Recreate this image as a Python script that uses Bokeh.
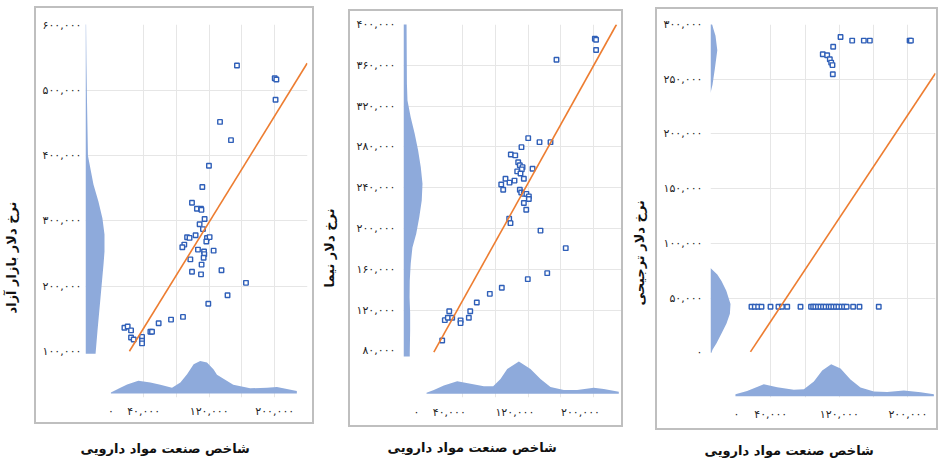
from bokeh.plotting import figure
from bokeh.layouts import row
from bokeh.models import Range1d, FixedTicker, Title, InlineStyleSheet
from bokeh.embed import file_html
from bokeh.resources import INLINE

# ---------------- data ----------------
x_title = "شاخص صنعت مواد دارویی"
x_ticks = [0, 40000, 120000, 200000]
x_tick_labels = ["۰", "۴۰,۰۰۰", "۱۲۰,۰۰۰", "۲۰۰,۰۰۰"]

# panel 1: free-market dollar
y1_title = "نرخ دلار بازار آزاد"
y1_ticks = [100000, 200000, 300000, 400000, 500000, 600000]
y1_tick_labels = ["۱۰۰,۰۰۰", "۲۰۰,۰۰۰", "۳۰۰,۰۰۰", "۴۰۰,۰۰۰", "۵۰۰,۰۰۰", "۶۰۰,۰۰۰"]
p1_x = [153900, 200000, 202000, 201000, 133200, 146600, 119700, 111600, 99000, 105000,
        110000, 110500, 114400, 108300, 112400, 103400, 93000, 96000, 117300, 120500,
        116500, 89600, 87200, 106300, 113700, 114000, 113200, 125400, 97000, 110700,
        99000, 110000, 135000, 164900, 142400, 118900, 88000, 73400, 58300, 48200,
        50200, 16500, 20500, 24600, 24600, 27800, 38000, 38000, 38000]
p1_y = [538500, 519000, 517000, 486000, 452000, 424000, 384700, 352000, 328000, 318600,
        318600, 317000, 303000, 295000, 287500, 278000, 275000, 274000, 273700, 275200,
        268500, 263700, 259500, 256000, 253000, 249000, 243500, 254400, 241000, 233000,
        222000, 218000, 224400, 205000, 186000, 173000, 152700, 148600, 143000, 130000,
        130000, 136000, 138000, 132000, 121000, 118000, 122000, 116000, 112000]
trend1_x = [22600, 239600]
trend1_y = [100000, 542000]
dens_y1_val = [96000, 131000, 182000, 234000, 253000, 279000, 304000, 330000, 356000,
               380000, 400000, 482000, 543000, 605000]
dens_y1 = [0.53, 0.63, 0.79, 0.95, 1.0, 1.0, 0.89, 0.68, 0.42, 0.26, 0.13, 0.08, 0.05, 0.03]
dens_x1_val = [0, 11600, 19800, 33500, 48200, 60400, 74600, 84800, 93000, 101000, 109000,
               117300, 125400, 129500, 149400, 170000, 190500, 202700, 227000]
dens_x1 = [0.03, 0.18, 0.28, 0.39, 0.34, 0.27, 0.18, 0.34, 0.59, 0.90, 1.0, 0.95, 0.74,
           0.58, 0.27, 0.16, 0.18, 0.20, 0.08]

# panel 2: NIMA dollar
y2_title = "نرخ دلار نیما"
y2_ticks = [80000, 120000, 160000, 200000, 240000, 280000, 320000, 360000, 400000]
y2_tick_labels = ["۸۰,۰۰۰", "۱۲۰,۰۰۰", "۱۶۰,۰۰۰", "۲۰۰,۰۰۰", "۲۴۰,۰۰۰", "۲۸۰,۰۰۰",
                  "۳۲۰,۰۰۰", "۳۶۰,۰۰۰", "۴۰۰,۰۰۰"]
p2_x = [217500, 219000, 219000, 170700, 136200, 150000, 163400, 128000, 115000, 120400,
        124000, 126000, 129300, 128400, 122800, 126800, 141500, 130900, 108500, 113400,
        119500, 103300, 105700, 126000, 127700, 130900, 134000, 137000, 137000, 130900,
        133800, 113000, 114600, 151200, 135700, 159400, 182000, 104000, 89400, 73500,
        65500, 63800, 53700, 53700, 39900, 34500, 38200, 43500, 31300]
p2_y = [386000, 385000, 375000, 365500, 288600, 284700, 284700, 279800, 272600, 271700,
        265000, 262000, 260200, 258000, 256000, 254000, 258600, 248800, 248800, 245000,
        247000, 243200, 238000, 238000, 235400, 234000, 234000, 231500, 229000, 225000,
        218400, 209600, 205300, 198000, 150400, 156300, 180800, 142000, 136000, 127500,
        119000, 112500, 110000, 107300, 119000, 110200, 112600, 112600, 90300]
trend2_x = [21100, 243900]
trend2_y = [78800, 400000]
dens_y2_val = [74600, 77500, 100000, 117000, 132500, 149000, 165500, 181500, 195000,
               211000, 227500, 244000, 260000, 276600, 293000, 309000, 325600, 342000, 404000]
dens_y2 = [0.33, 0.33, 0.35, 0.35, 0.32, 0.33, 0.38, 0.47, 0.67, 0.83, 0.96, 1.0, 0.91,
           0.77, 0.59, 0.38, 0.21, 0.18, 0.16]
dens_x2_val = [12200, 21100, 33300, 49600, 65900, 82100, 93500, 102400, 110600, 124800,
               139000, 151200, 163400, 179600, 195900, 216200, 228400, 246700]
dens_x2 = [0.03, 0.12, 0.26, 0.39, 0.31, 0.23, 0.23, 0.46, 0.77, 1.0, 0.77, 0.46, 0.21,
           0.12, 0.12, 0.19, 0.15, 0.06]

# panel 3: preferential dollar
y3_title = "نرخ دلار ترجیحی"
y3_ticks = [0, 50000, 100000, 150000, 200000, 250000, 300000]
y3_tick_labels = ["۰", "۵۰,۰۰۰", "۱۰۰,۰۰۰", "۱۵۰,۰۰۰", "۲۰۰,۰۰۰", "۲۵۰,۰۰۰", "۳۰۰,۰۰۰"]
p3_x = [121400, 135000, 148600, 155600, 202000, 203500, 112800, 100700, 105800, 108900,
        110500, 112000, 112400,
        17500, 21400, 25300, 29200, 39700, 49000, 53000, 59200, 74700, 87000, 89500,
        92000, 95000, 98000, 101000, 104000, 107500, 110000, 113000, 116000, 119000,
        122500, 125500, 128500, 136100, 143500, 166000]
p3_y = [288600, 285300, 285300, 285300, 285300, 285300, 279600, 272800, 271900, 268300,
        265200, 262900, 254500,
        42000, 42000, 42000, 42000, 42000, 42000, 42000, 42000, 42000, 42000, 42000,
        42000, 42000, 42000, 42000, 42000, 42000, 42000, 42000, 42000, 42000,
        42000, 42000, 42000, 42000, 42000, 42000]
trend3_x = [16300, 232200]
trend3_y = [800, 255400]
dens_y3_val = [0, 2800, 8700, 17700, 26700, 35600, 44600, 56600, 65600, 71500, 77500,
               237400, 245000, 259900, 276400, 289800, 295700, 303500]
dens_y3 = [0.05, 0.10, 0.30, 0.55, 0.80, 0.97, 1.0, 0.79, 0.55, 0.34, 0.0,
           0.0, 0.10, 0.22, 0.34, 0.25, 0.15, 0.03]
dens_x3_val = [-1200, 12400, 31900, 47500, 66900, 78600, 90300, 100000, 110500, 121400,
               133000, 144700, 160300, 175800, 195300, 214800, 230300]
dens_x3 = [0.06, 0.16, 0.37, 0.28, 0.20, 0.22, 0.46, 0.80, 1.0, 0.86, 0.52, 0.27, 0.15,
           0.13, 0.18, 0.12, 0.06]

# ---------------- styling ----------------
H = 471
FONT = "DejaVu Sans"
DENS_COLOR = "#8eaadb"
PT_COLOR = "#2f5fb8"
LINE_COLOR = "#ed7d31"
GRID_COLOR = "#e6e6e6"
BOX_COLOR = "#bfbfbf"
TITLE_SIZE = "13px"


def panel(cfg):
    w, ml, mr, mt, mb = cfg["w"], cfg["ml"], cfg["mr"], cfg["mt"], cfg["mb"]
    x0, x1 = cfg["xr"]
    y0, y1 = cfg["yr"]
    fw = w - ml - mr
    fh = H - mt - mb
    dx = (x1 - x0) / fw
    dy = (y1 - y0) / fh
    bx0, by0, bx1, by1 = cfg["box"]
    css = (":host { position: relative; }\n"
           ":host::after { content: ''; position: absolute; box-sizing: border-box; "
           f"left: {bx0 - 1}px; top: {by0 - 1}px; width: {bx1 - bx0 + 2}px; "
           f"height: {by1 - by0 + 2}px; border: 2px solid {BOX_COLOR}; "
           "pointer-events: none; }")
    p = figure(width=w, height=H, x_range=Range1d(x0, x1), y_range=Range1d(y0, y1),
               output_backend="svg", toolbar_location=None,
               min_border_left=ml, min_border_right=mr,
               min_border_top=mt, min_border_bottom=mb,
               stylesheets=[InlineStyleSheet(css=css)])
    p.outline_line_color = None
    p.background_fill_color = "white"
    p.border_fill_color = "white"

    # axes
    for ax, ticks, labels, standoff, gap in (
            (p.xaxis, x_ticks, x_tick_labels, cfg["xso"], cfg["xsp"]),
            (p.yaxis, cfg["yt"], cfg["ytl"], cfg["yso"], cfg["ysp"])):
        ax.ticker = FixedTicker(ticks=ticks)
        ax.major_label_overrides = dict(zip(ticks, labels))
        ax.axis_line_color = None
        ax.major_tick_line_color = None
        ax.minor_tick_line_color = None
        ax.major_tick_in = 0
        ax.major_tick_out = 0
        ax.major_label_standoff = standoff
        ax.major_label_text_font = FONT
        ax.major_label_text_font_size = "11px"
        ax.major_label_text_color = "#1f1f1f"
        # blank axis label: only reserves the gap before the title
        ax.axis_label = " "
        ax.axis_label_standoff = gap
        ax.axis_label_text_font_size = "1px"
    p.xgrid.ticker = FixedTicker(ticks=cfg["gx"])
    p.ygrid.ticker = FixedTicker(ticks=cfg["gy"])
    for g in (p.xgrid, p.ygrid):
        g.grid_line_color = GRID_COLOR
        g.grid_line_width = 1

    # marginal density along y (left)
    yv, yd = cfg["dy_val"], cfg["dy"]
    wscale = cfg["dy_peak"] * dx
    xs = [x0] + [x0 + d * wscale for d in yd] + [x0]
    ys = [yv[0]] + list(yv) + [yv[-1]]
    p.patch(xs, ys, fill_color=DENS_COLOR, line_color=None)

    # marginal density along x (bottom)
    xv, xd = cfg["dx_val"], cfg["dx"]
    base = y0 + cfg["dx_base"] * dy
    hscale = cfg["dx_peak"] * dy
    xs = [xv[0]] + list(xv) + [xv[-1]]
    ys = [base] + [base + d * hscale for d in xd] + [base]
    p.patch(xs, ys, fill_color=DENS_COLOR, line_color=None)

    # scatter + trend
    p.scatter(cfg["px"], cfg["py"], marker="square", size=4.5, line_color=PT_COLOR,
              line_width=1.4, fill_color="white")
    p.line(cfg["tx"], cfg["ty"], line_color=LINE_COLOR, line_width=1.6)

    # axis titles
    p.add_layout(Title(text=cfg["ytitle"], align="left", offset=cfg["yt_off"], standoff=0,
                       text_font=FONT, text_font_size=TITLE_SIZE, text_font_style="bold",
                       text_color="#111111"), "left")
    p.add_layout(Title(text=x_title, align="left", offset=cfg["xt_off"], standoff=0,
                       text_font=FONT, text_font_size=TITLE_SIZE, text_font_style="bold",
                       text_color="#111111"), "below")
    return p


cfg1 = dict(w=318, ml=85, mr=11, mt=22, mb=74, xr=(-31000, 240000), yr=(29000, 601500),
            yt=y1_ticks, ytl=y1_tick_labels, xso=7, yso=4,
            gx=[40000, 80000, 120000, 160000, 200000], gy=[200000, 300000, 400000, 500000],
            dy_val=dens_y1_val, dy=dens_y1, dy_peak=19,
            dx_val=dens_x1_val, dx=dens_x1, dx_peak=32.7, dx_base=4,
            px=p1_x, py=p1_y, tx=trend1_x, ty=trend1_y,
            box=(35, 7, 313, 423), ytitle=y1_title, yt_off=84, xt_off=-5, ysp=17, xsp=14)
cfg2 = dict(w=311, ml=85, mr=8, mt=24, mb=74, xr=(-15900, 250000), yr=(34400, 400000),
            yt=y2_ticks, ytl=y2_tick_labels, xso=8, yso=8,
            gx=[56000, 96000, 136000, 176000, 216000],
            gy=[120000, 160000, 200000, 240000, 280000, 320000, 360000],
            dy_val=dens_y2_val, dy=dens_y2, dy_peak=19,
            dx_val=dens_x2_val, dx=dens_x2, dx_peak=32.3, dx_base=3.7,
            px=p2_x, py=p2_y, tx=trend2_x, ty=trend2_y,
            box=(31, 10, 304, 426), ytitle=y2_title, yt_off=110, xt_off=-16, ysp=13, xsp=12)
cfg3 = dict(w=313, ml=81, mr=7, mt=22, mb=69, xr=(-30300, 232200), yr=(-40900, 300000),
            yt=y3_ticks, ytl=y3_tick_labels, xso=10, yso=8,
            gx=[40000, 80000, 120000, 160000, 200000],
            gy=[50000, 100000, 150000, 200000, 250000],
            dy_val=dens_y3_val, dy=dens_y3, dy_peak=20,
            dx_val=dens_x3_val, dx=dens_x3, dx_peak=32.7, dx_base=1.3,
            px=p3_x, py=p3_y, tx=trend3_x, ty=trend3_y,
            box=(27, 8, 308, 429), ytitle=y3_title, yt_off=92, xt_off=-6, ysp=10, xsp=13)

layout = row(panel(cfg1), panel(cfg2), panel(cfg3))
open("out.html", "w").write(file_html(layout, INLINE))
